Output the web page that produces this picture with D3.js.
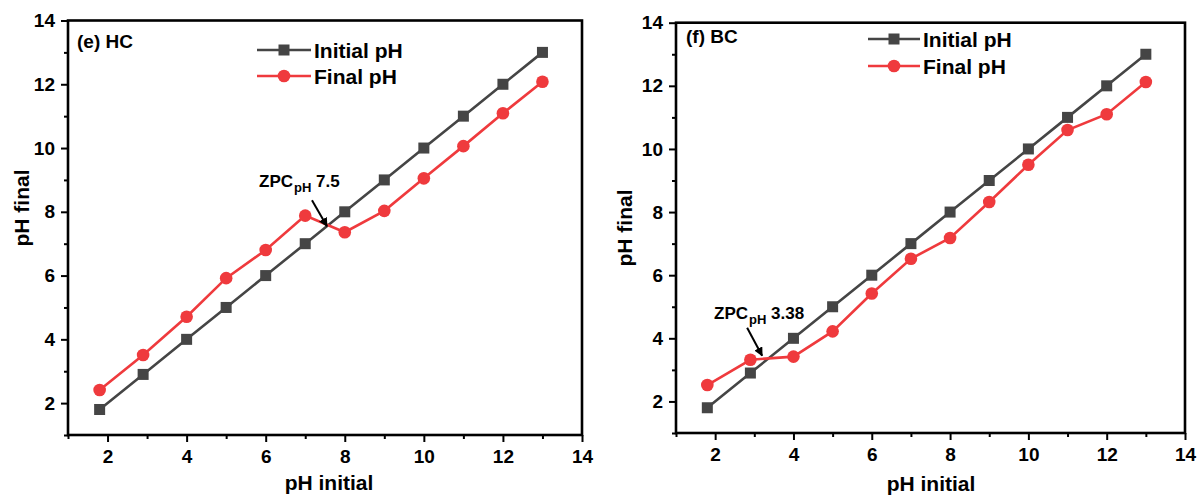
<!DOCTYPE html>
<html>
<head>
<meta charset="utf-8">
<script src="https://cdn.jsdelivr.net/npm/d3@7"></script>
<style>
  html, body { margin: 0; padding: 0; background: #fff; }
  svg { display: block; font-family: "Liberation Sans", Arial, sans-serif; font-weight: bold; }
</style>
</head>
<body>
<svg id="chart" width="1198" height="496"></svg>
<script>
// Point of zero charge experiment: initial vs. final pH for two sorbents
const phInitial = [1.8, 2.9, 4, 5, 6, 7, 8, 9, 10, 11, 12, 13];
const initialLine = [1.8, 2.9, 4, 5, 6, 7, 8, 9, 10, 11, 12, 13];
const finalHC = [2.41, 3.51, 4.71, 5.92, 6.8, 7.88, 7.36, 8.03, 9.05, 10.06, 11.09, 12.08];
const finalBC = [2.52, 3.32, 3.42, 4.22, 5.42, 6.52, 7.18, 8.32, 9.5, 10.6, 11.1, 12.12];
const majorTicks = [2, 4, 6, 8, 10, 12, 14];
const minorTicks = [1, 3, 5, 7, 9, 11, 13];
const seriesNames = ["Initial pH", "Final pH"];
const panelNames = ["(e) HC", "(f) BC"];
const zpcValues = ["7.5", "3.38"];

const GRAY = "#454545";
const RED = "#ef3a3d";

const svg = d3.select("#chart");
svg.append("rect").attr("width", 1198).attr("height", 496).attr("fill", "#fff");

const defs = svg.append("defs");
defs.append("marker")
  .attr("id", "arrowhead")
  .attr("viewBox", "0 0 10 10")
  .attr("refX", 9).attr("refY", 5)
  .attr("markerWidth", 4.5).attr("markerHeight", 4.5)
  .attr("orient", "auto")
  .append("path").attr("d", "M0,0 L10,5 L0,10 Z").attr("fill", "#000");

const panels = [
  {
    final: finalHC, name: panelNames[0], zpc: zpcValues[0],
    x0: 68, x1: 582, y0: 435, y1: 20.5,
    labelPos: [77, 48],
    legend: { lx0: 257, lx1: 311, tx: 314, y: [50, 76] },
    yTitle: [29, 208], xTitle: [329, 490],
    zpcTip: [7.55, 7.55], zpcText: [259, 187], tail: [-15, -26]
  },
  {
    final: finalBC, name: panelNames[1], zpc: zpcValues[1],
    x0: 676, x1: 1185, y0: 433, y1: 22.7,
    labelPos: [686, 43],
    legend: { lx0: 868, lx1: 920, tx: 923, y: [39, 66] },
    yTitle: [632, 228], xTitle: [931, 491],
    zpcTip: [3.2, 3.45], zpcText: [714, 319], tail: [-15, -28]
  }
];

panels.forEach(p => {
  const g = svg.append("g");
  const x = d3.scaleLinear().domain([1, 14]).range([p.x0, p.x1]);
  const y = d3.scaleLinear().domain([1, 14]).range([p.y0, p.y1]);

  // axes with major and minor ticks
  const styleAxis = sel => {
    sel.select(".domain").remove();
    sel.selectAll(".tick line").attr("stroke", "#000").attr("stroke-width", 2);
    sel.selectAll(".tick text").attr("fill", "#000").attr("font-size", 19)
      .attr("font-family", "'Liberation Sans', Arial, sans-serif").attr("font-weight", "bold");
  };
  g.append("g").attr("transform", `translate(0,${p.y0})`)
    .call(d3.axisBottom(x).tickValues(majorTicks).tickSize(7).tickPadding(8).tickFormat(d3.format("d")))
    .call(styleAxis);
  g.append("g").attr("transform", `translate(0,${p.y0})`)
    .call(d3.axisBottom(x).tickValues(minorTicks).tickSize(4).tickFormat(""))
    .call(styleAxis);
  g.append("g").attr("transform", `translate(${p.x0},0)`)
    .call(d3.axisLeft(y).tickValues(majorTicks).tickSize(7).tickPadding(6).tickFormat(d3.format("d")))
    .call(styleAxis);
  g.append("g").attr("transform", `translate(${p.x0},0)`)
    .call(d3.axisLeft(y).tickValues(minorTicks).tickSize(4).tickFormat(""))
    .call(styleAxis);

  // plot frame
  g.append("rect")
    .attr("x", p.x0).attr("y", p.y1)
    .attr("width", p.x1 - p.x0).attr("height", p.y0 - p.y1)
    .attr("fill", "none").attr("stroke", "#000").attr("stroke-width", 2.6);

  // series
  const line = d3.line().x(d => x(d[0])).y(d => y(d[1]));
  const initPts = phInitial.map((v, i) => [v, initialLine[i]]);
  const finalPts = phInitial.map((v, i) => [v, p.final[i]]);

  g.append("path").datum(initPts).attr("d", line)
    .attr("fill", "none").attr("stroke", GRAY).attr("stroke-width", 2.6);
  g.append("path").datum(finalPts).attr("d", line)
    .attr("fill", "none").attr("stroke", RED).attr("stroke-width", 2.6);

  g.selectAll(".sq").data(initPts).join("rect")
    .attr("x", d => x(d[0]) - 5.5).attr("y", d => y(d[1]) - 5.5)
    .attr("width", 11).attr("height", 11).attr("fill", GRAY);
  g.selectAll(".ci").data(finalPts).join("circle")
    .attr("cx", d => x(d[0])).attr("cy", d => y(d[1])).attr("r", 6.3).attr("fill", RED);

  // panel label
  g.append("text").attr("x", p.labelPos[0]).attr("y", p.labelPos[1])
    .attr("font-size", 19).text(p.name);

  // legend
  const L = p.legend;
  const mid = (L.lx0 + L.lx1) / 2;
  [GRAY, RED].forEach((c, i) => {
    g.append("line").attr("x1", L.lx0).attr("x2", L.lx1)
      .attr("y1", L.y[i]).attr("y2", L.y[i]).attr("stroke", c).attr("stroke-width", 2.6);
    if (i === 0) {
      g.append("rect").attr("x", mid - 5.5).attr("y", L.y[i] - 5.5)
        .attr("width", 11).attr("height", 11).attr("fill", c);
    } else {
      g.append("circle").attr("cx", mid).attr("cy", L.y[i]).attr("r", 6.3).attr("fill", c);
    }
    g.append("text").attr("x", L.tx).attr("y", L.y[i]).attr("dy", "0.36em")
      .attr("font-size", 21).attr("fill", "#000").text(seriesNames[i]);
  });

  // axis titles
  g.append("text")
    .attr("transform", `translate(${p.yTitle[0]},${p.yTitle[1]}) rotate(-90)`)
    .attr("text-anchor", "middle").attr("font-size", 21).text("pH final");
  g.append("text").attr("x", p.xTitle[0]).attr("y", p.xTitle[1])
    .attr("text-anchor", "middle").attr("font-size", 21).text("pH initial");

  // point of zero charge annotation
  const tx = x(p.zpcTip[0]), ty = y(p.zpcTip[1]);
  g.append("line")
    .attr("x1", tx + p.tail[0]).attr("y1", ty + p.tail[1])
    .attr("x2", tx).attr("y2", ty)
    .attr("stroke", "#000").attr("stroke-width", 2)
    .attr("marker-end", "url(#arrowhead)");
  const t = g.append("text").attr("x", p.zpcText[0]).attr("y", p.zpcText[1]).attr("font-size", 17);
  t.append("tspan").text("ZPC");
  t.append("tspan").attr("font-size", 13).attr("dx", 1).attr("dy", 5).text("pH");
  t.append("tspan").attr("dy", -5).text(" " + p.zpc);
});
</script>
</body>
</html>
